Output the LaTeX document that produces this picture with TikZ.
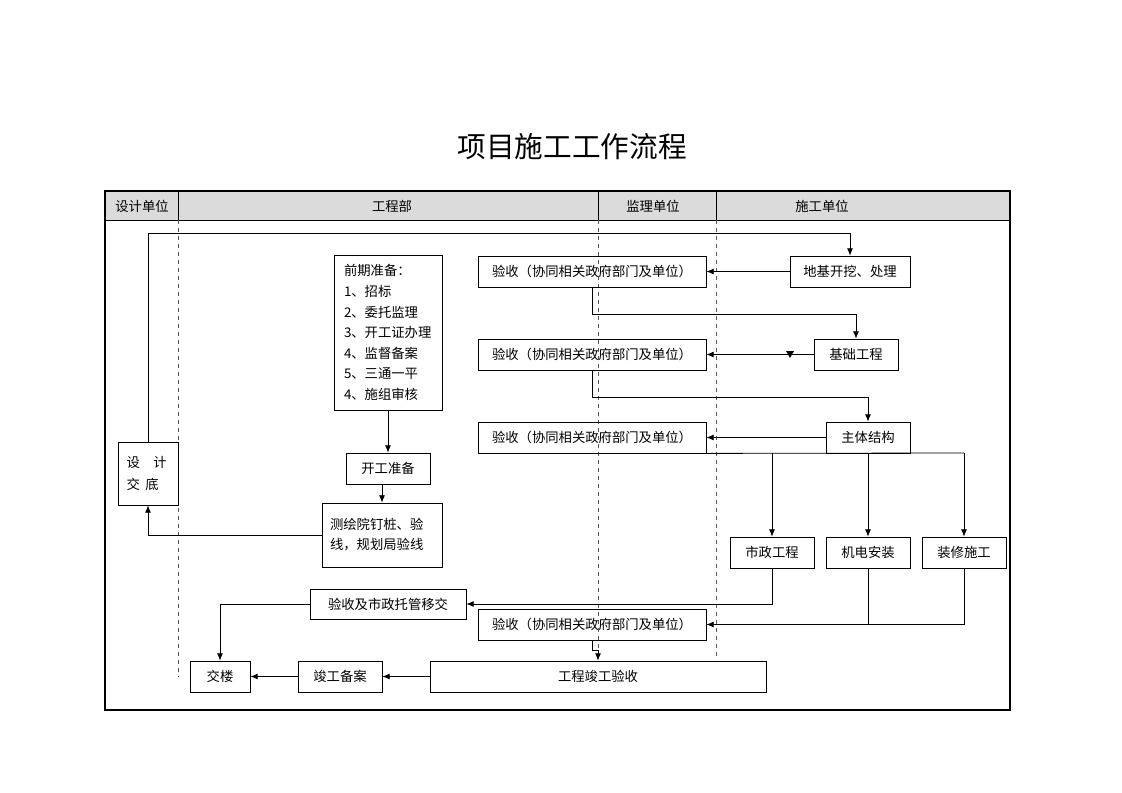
\documentclass[tikz,border=0pt]{standalone}
\usepackage{fontspec}
\setmainfont{Noto Sans CJK SC}
\usetikzlibrary{arrows.meta,positioning}
\tikzset{
	box/.style={draw, line width=0.6pt, minimum height=23.25pt, inner sep=2pt,
			font=\fontsize{10pt}{12pt}\selectfont},
	flow/.style={line width=0.6pt, -{Latex[length=5.5pt,width=4.5pt]}},
	link/.style={line width=0.6pt},
	lane/.style={dashed, line width=0.4pt, gray!70!black},
	head/.style={font=\fontsize{10pt}{12pt}\selectfont}
}

\begin{document}
\begin{tikzpicture}[x=0.75pt,y=-0.75pt]
	\useasboundingbox (0,0) rectangle (1122,793);
	\node (title) at (572,147) {\fontsize{21.5pt}{26pt}\selectfont 项目施工工作流程};

	% lanes
	\fill[gray!28] (105,191) rectangle (1010,220);
	\draw[link] (105,220) -- (1010,220);
	\draw[line width=0.5pt] (178,191) -- (178,220) (598,191) -- (598,220) (716,191) -- (716,220);
	\draw[lane] (178,220) -- (178,677);
	\draw[lane] (598,220) -- (598,660);
	\draw[lane] (716,220) -- (716,660);
	\node[head] (h1) at (142,206) {设计单位};
	\node[head] (h2) at (392,206) {工程部};
	\node[head] (h3) at (653,206) {监理单位};
	\node[head] (h4) at (822,206) {施工单位};
	\draw[line width=2.2pt] (105,191) rectangle (1010,710);

	% boxes
	\node[box, minimum width=171pt] (a1) at (592,271.5) {验收（协同相关政府部门及单位）};
	\node[box, minimum width=171pt] (a2) at (592,354.5) {验收（协同相关政府部门及单位）};
	\node[box, minimum width=171pt] (a3) at (592,437.5) {验收（协同相关政府部门及单位）};
	\node[box, minimum width=171pt] (a4) at (592,624.5) {验收（协同相关政府部门及单位）};
	\node[box, minimum width=90pt] (dj) at (850,271.5) {地基开挖、处理};
	\node[box, minimum width=63pt] (jc) at (856,354.5) {基础工程};
	\node[box, minimum width=63pt] (zt) at (868,437.5) {主体结构};
	\node[box, minimum width=63pt] (sz) at (772,552.5) {市政工程};
	\node[box, minimum width=63pt] (jd) at (868,552.5) {机电安装};
	\node[box, minimum width=63pt] (zx) at (964,552.5) {装修施工};
	\node[box, minimum width=81pt, minimum height=116.25pt, text width=66pt, inner xsep=7.5pt,
		align=left, font=\fontsize{10pt}{15.4pt}\selectfont] (qq) at (388,332.5)
		{前期准备：\\1、招标\\2、委托监理\\3、开工证办理\\4、监督备案\\5、三通一平\\4、施组审核};
	\node[box, minimum width=63pt] (kg) at (388,468.5) {开工准备};
	\node[box, minimum width=90pt, minimum height=48pt, text width=78pt, align=left,
		font=\fontsize{10pt}{15pt}\selectfont] (ch) at (382,535) {测绘院钉桩、验\\线，规划局验线};
	\node[box, minimum width=45pt, minimum height=47.25pt, text width=32pt, align=left,
		font=\fontsize{10pt}{17pt}\selectfont] (sj) at (148,473.5) {设\quad 计\\交\hspace{4pt}底};
	\node[box, minimum width=117pt, minimum height=22.5pt] (ys) at (388,604) {验收及市政托管移交};
	\node[box, minimum width=45pt] (jl) at (220,676.5) {交楼};
	\node[box, minimum width=63pt] (ba) at (340,676.5) {竣工备案};
	\node[box, minimum width=252pt] (jg) at (598,676.5) {工程竣工验收};

	% connectors
	\coordinate (top) at (0,233);
	\draw[flow] (sj.north) -- (sj.north |- top) -| (dj.north);
	\draw[flow] (dj.west) -- (a1.east);
	\draw[flow] (a1.south) -- ++(0,27) -| (jc.north);
	\draw[flow] (jc.west) -- (a2.east);
	\fill (786,351) -- (794,351) -- (790,358) -- cycle;
	\draw[flow] (a2.south) -- ++(0,27) -| (zt.north);
	\draw[flow] (zt.west) -- (a3.east);
	\coordinate (br) at (964,453);
	\draw[link] (a3.south east) -- (br);
	\draw[flow] (br) -- (zx.north);
	\draw[flow] (zt.south) -- (jd.north);
	\draw[flow] (sz.north |- br) -- (sz.north);
	\draw[flow] (sz.south) |- (ys.east);
	\draw[flow] (jd.south) |- (a4.east);
	\draw[link] (zx.south) |- (jd.south |- a4.east);
	\draw[flow] (a4.south) -- ++(0,10) -| (jg.north);
	\draw[flow] (jg.west) -- (ba.east);
	\draw[flow] (ba.west) -- (jl.east);
	\draw[flow] (ys.west) -| (jl.north);
	\draw[flow] (qq.south) -- (kg.north);
	\draw[flow] (ch.north |- kg.south) -- (ch.north);
	\draw[flow] (ch.west) -| (sj.south);
\end{tikzpicture}
\end{document}
